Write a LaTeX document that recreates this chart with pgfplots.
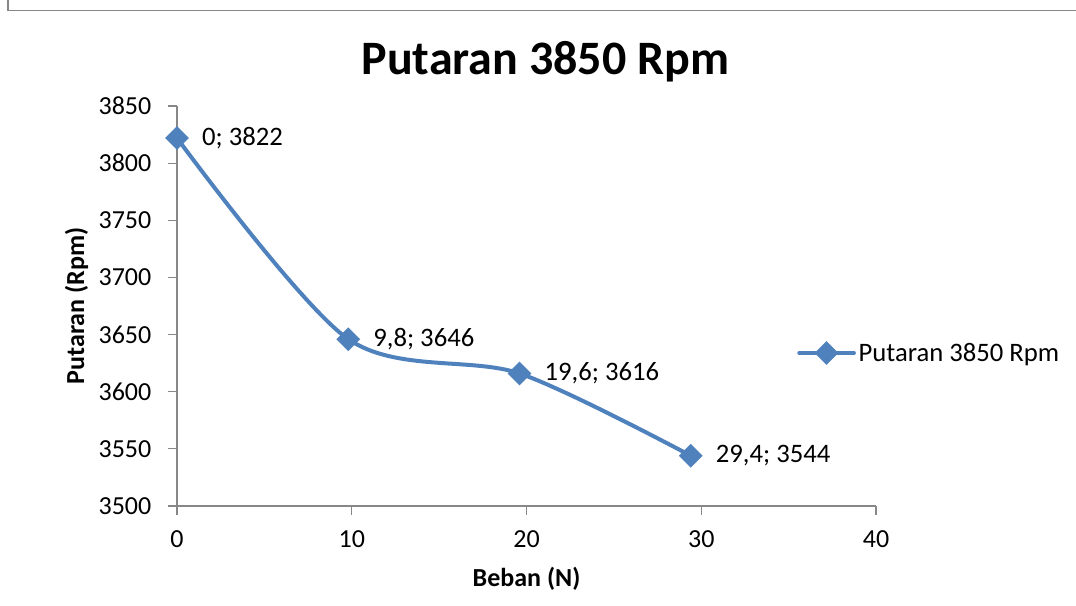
\documentclass[border=0pt]{standalone}
\usepackage{pgfplots}
\usepackage{pgfplotstable}
\pgfplotsset{compat=1.18}
\usepackage{fontspec}
\setmainfont{Carlito}
\definecolor{xlblue}{HTML}{4F81BD}
\definecolor{axgray}{HTML}{878787}
\protected\def\sc{;}
\pgfplotstableread{
x y label
0 3822 {0\sc{} 3822}
9.8 3646 {9,8\sc{} 3646}
19.6 3616 {19,6\sc{} 3616}
29.4 3544 {29,4\sc{} 3544}
}\datatable
\begin{document}
\begin{tikzpicture}
\useasboundingbox (0,0) rectangle (807pt,454.5pt);
% outer chart border (top and left edges visible)
\draw[axgray, line width=1pt] (6pt,454.5pt) -- (6pt,446.5pt) -- (807pt,446.5pt);
\begin{axis}[
  at={(132.75pt,75pt)}, anchor=south west,
  scale only axis, width=524.25pt, height=300pt,
  xmin=0, xmax=40, ymin=3500, ymax=3850,
  xtick={0,10,20,30,40}, ytick={3500,3550,...,3850},
  axis lines=left, axis line style={-, axgray, line width=0.9pt},
  tick style={axgray, line width=0.9pt}, tick align=outside,
  major tick length=6.75pt,
  ticklabel style={font=\fontsize{19.5}{22}\selectfont},
  yticklabel style={xshift=-9pt},
  xticklabel style={yshift=-8pt},
  /pgf/number format/assume math mode=true,
  /pgf/number format/1000 sep={},
  xlabel={\bfseries Beban (N)}, ylabel={\bfseries Putaran (Rpm)},
  label style={font=\fontsize{19.5}{22}\selectfont},
  xlabel style={yshift=-8pt},
  ylabel style={yshift=1pt},
  clip=false,
  legend style={draw=none, fill=none, inner sep=0pt, at={(axis description cs:0.887,0.3825)}, anchor=west, font=\fontsize{20}{22}\selectfont},
  legend image code/.code={\draw[mark repeat=2,mark phase=2,#1, line cap=round] plot coordinates {(0pt,0pt) (20.5pt,0pt) (41pt,0pt)};},
]
\addplot[xlblue, line width=3pt, smooth, mark=square*, mark size=4.8pt,
  mark options={rotate=45, draw=none, fill=xlblue},
  nodes near coords, point meta=explicit symbolic,
  nodes near coords style={anchor=west, xshift=14pt, font=\fontsize{20}{22}\selectfont, text=black}]
  table[x=x, y=y, meta=label] {\datatable};
\addlegendentry{Putaran 3850 Rpm}
\end{axis}
\node[font=\fontsize{36}{40}\selectfont\bfseries] at (409pt,408pt) {Putaran 3850 Rpm};
\end{tikzpicture}
\end{document}
